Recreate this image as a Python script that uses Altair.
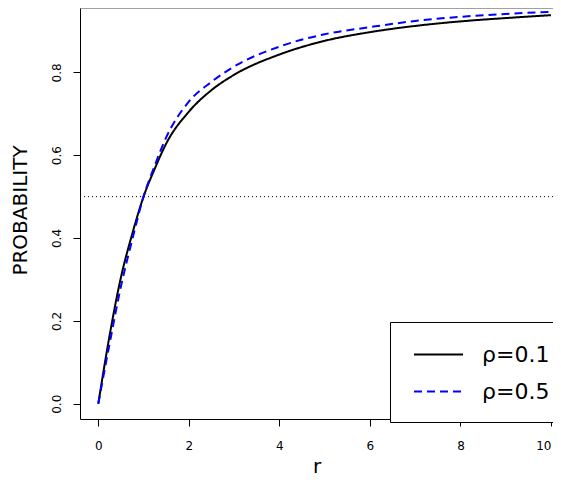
import altair as alt
import pandas as pd

# values
r_vals = [0, 0.25, 0.5, 0.75, 1.0, 1.25, 1.5, 2.0, 2.5, 3.0, 4.0, 5.0, 6.0, 7.0, 8.0, 9.0, 10.0]
p_rho01 = [0.0, 0.165, 0.305, 0.410, 0.500, 0.568, 0.628, 0.705, 0.757, 0.794, 0.843, 0.876, 0.897, 0.912, 0.923, 0.931, 0.938]
p_rho05 = [0.0, 0.145, 0.283, 0.396, 0.500, 0.576, 0.643, 0.729, 0.777, 0.814, 0.862, 0.892, 0.909, 0.924, 0.934, 0.941, 0.946]
series_labels = ["ρ=0.1", "ρ=0.5"]
series_colors = ["black", "blue"]
series_dashes = [[1, 0], [8, 5]]
x_ticks = [0, 2, 4, 6, 8, 10]
y_ticks = [0.0, 0.2, 0.4, 0.6, 0.8]
threshold = [0.5]

x_domain = [-0.404, 10.044]
y_domain = [-0.0369, 0.9553]

rows = []
for lab, vals in zip(series_labels, [p_rho01, p_rho05]):
    for r, p in zip(r_vals, vals):
        rows.append({"r": r, "p": p, "series": lab})
df = pd.DataFrame(rows)

FONT = "DejaVu Sans"
xscale = alt.Scale(domain=x_domain, nice=False, zero=False)
yscale = alt.Scale(domain=y_domain, nice=False, zero=False)

legend = alt.Legend(
    title="\u00a0", titleOrient="bottom", titleFontSize=10, titlePadding=2,
    orient="none", legendX=310, legendY=314,
    symbolType="stroke", symbolSize=2401, symbolStrokeWidth=2,
    labelFont=FONT, labelFontSize=22, labelColor="black", labelOffset=18,
    labelExpr="datum.label + '\u00a0\u00a0\u00a0\u00a0\u00a0'",
    padding=7, rowPadding=-19, symbolOffset=16,
    strokeColor="black", fillColor="white", labelLimit=0,
)

hline = alt.Chart(pd.DataFrame({"y": threshold})).mark_rule(
    color="black", strokeWidth=1, strokeDash=[1, 3]
).encode(y=alt.Y("y:Q", scale=yscale))

top_border = alt.Chart(pd.DataFrame({"y": [y_domain[1]]})).mark_rule(
    color="#444444", strokeWidth=1
).encode(y=alt.Y("y:Q", scale=yscale))

lines = alt.Chart(df).mark_line(strokeWidth=2, interpolate="monotone").encode(
    x=alt.X("r:Q", scale=xscale, axis=alt.Axis(
        values=x_ticks, title="r", format="d",
        labelFont=FONT, labelFontSize=12, labelColor="black",
        labelBaseline="top", labelPadding=14, labelFlush=4,
        tickSize=7, tickColor="black", domainColor="black", grid=False,
        titleFont=FONT, titleFontSize=20, titleFontWeight="normal", titleColor="black",
        titleBaseline="alphabetic", titleY=53,
    )),
    y=alt.Y("p:Q", scale=yscale, axis=alt.Axis(
        values=y_ticks, title="PROBABILITY", format=".1f",
        labelFont=FONT, labelFontSize=12, labelColor="black",
        labelAngle=270, labelAlign="center", labelBaseline="alphabetic", labelPadding=13,
        tickSize=7, tickColor="black", domainColor="black", grid=False,
        titleFont=FONT, titleFontSize=20, titleFontWeight="normal", titleColor="black",
        titleAngle=270, titleBaseline="alphabetic", titleAlign="center",
        titleX=-54, titleY=202,
    )),
    color=alt.Color("series:N", scale=alt.Scale(domain=series_labels, range=series_colors), legend=legend),
    strokeDash=alt.StrokeDash("series:N", scale=alt.Scale(domain=series_labels, range=series_dashes), legend=legend),
)

chart = alt.layer(hline, top_border, lines).properties(
    width=473, height=411,
    autosize=alt.AutoSizeParams(type="none"),
    padding={"left": 72, "top": 0, "right": 0, "bottom": 58},
).configure_view(stroke=None)

chart.save("out.html", embed_options={"renderer": "svg", "actions": False})
